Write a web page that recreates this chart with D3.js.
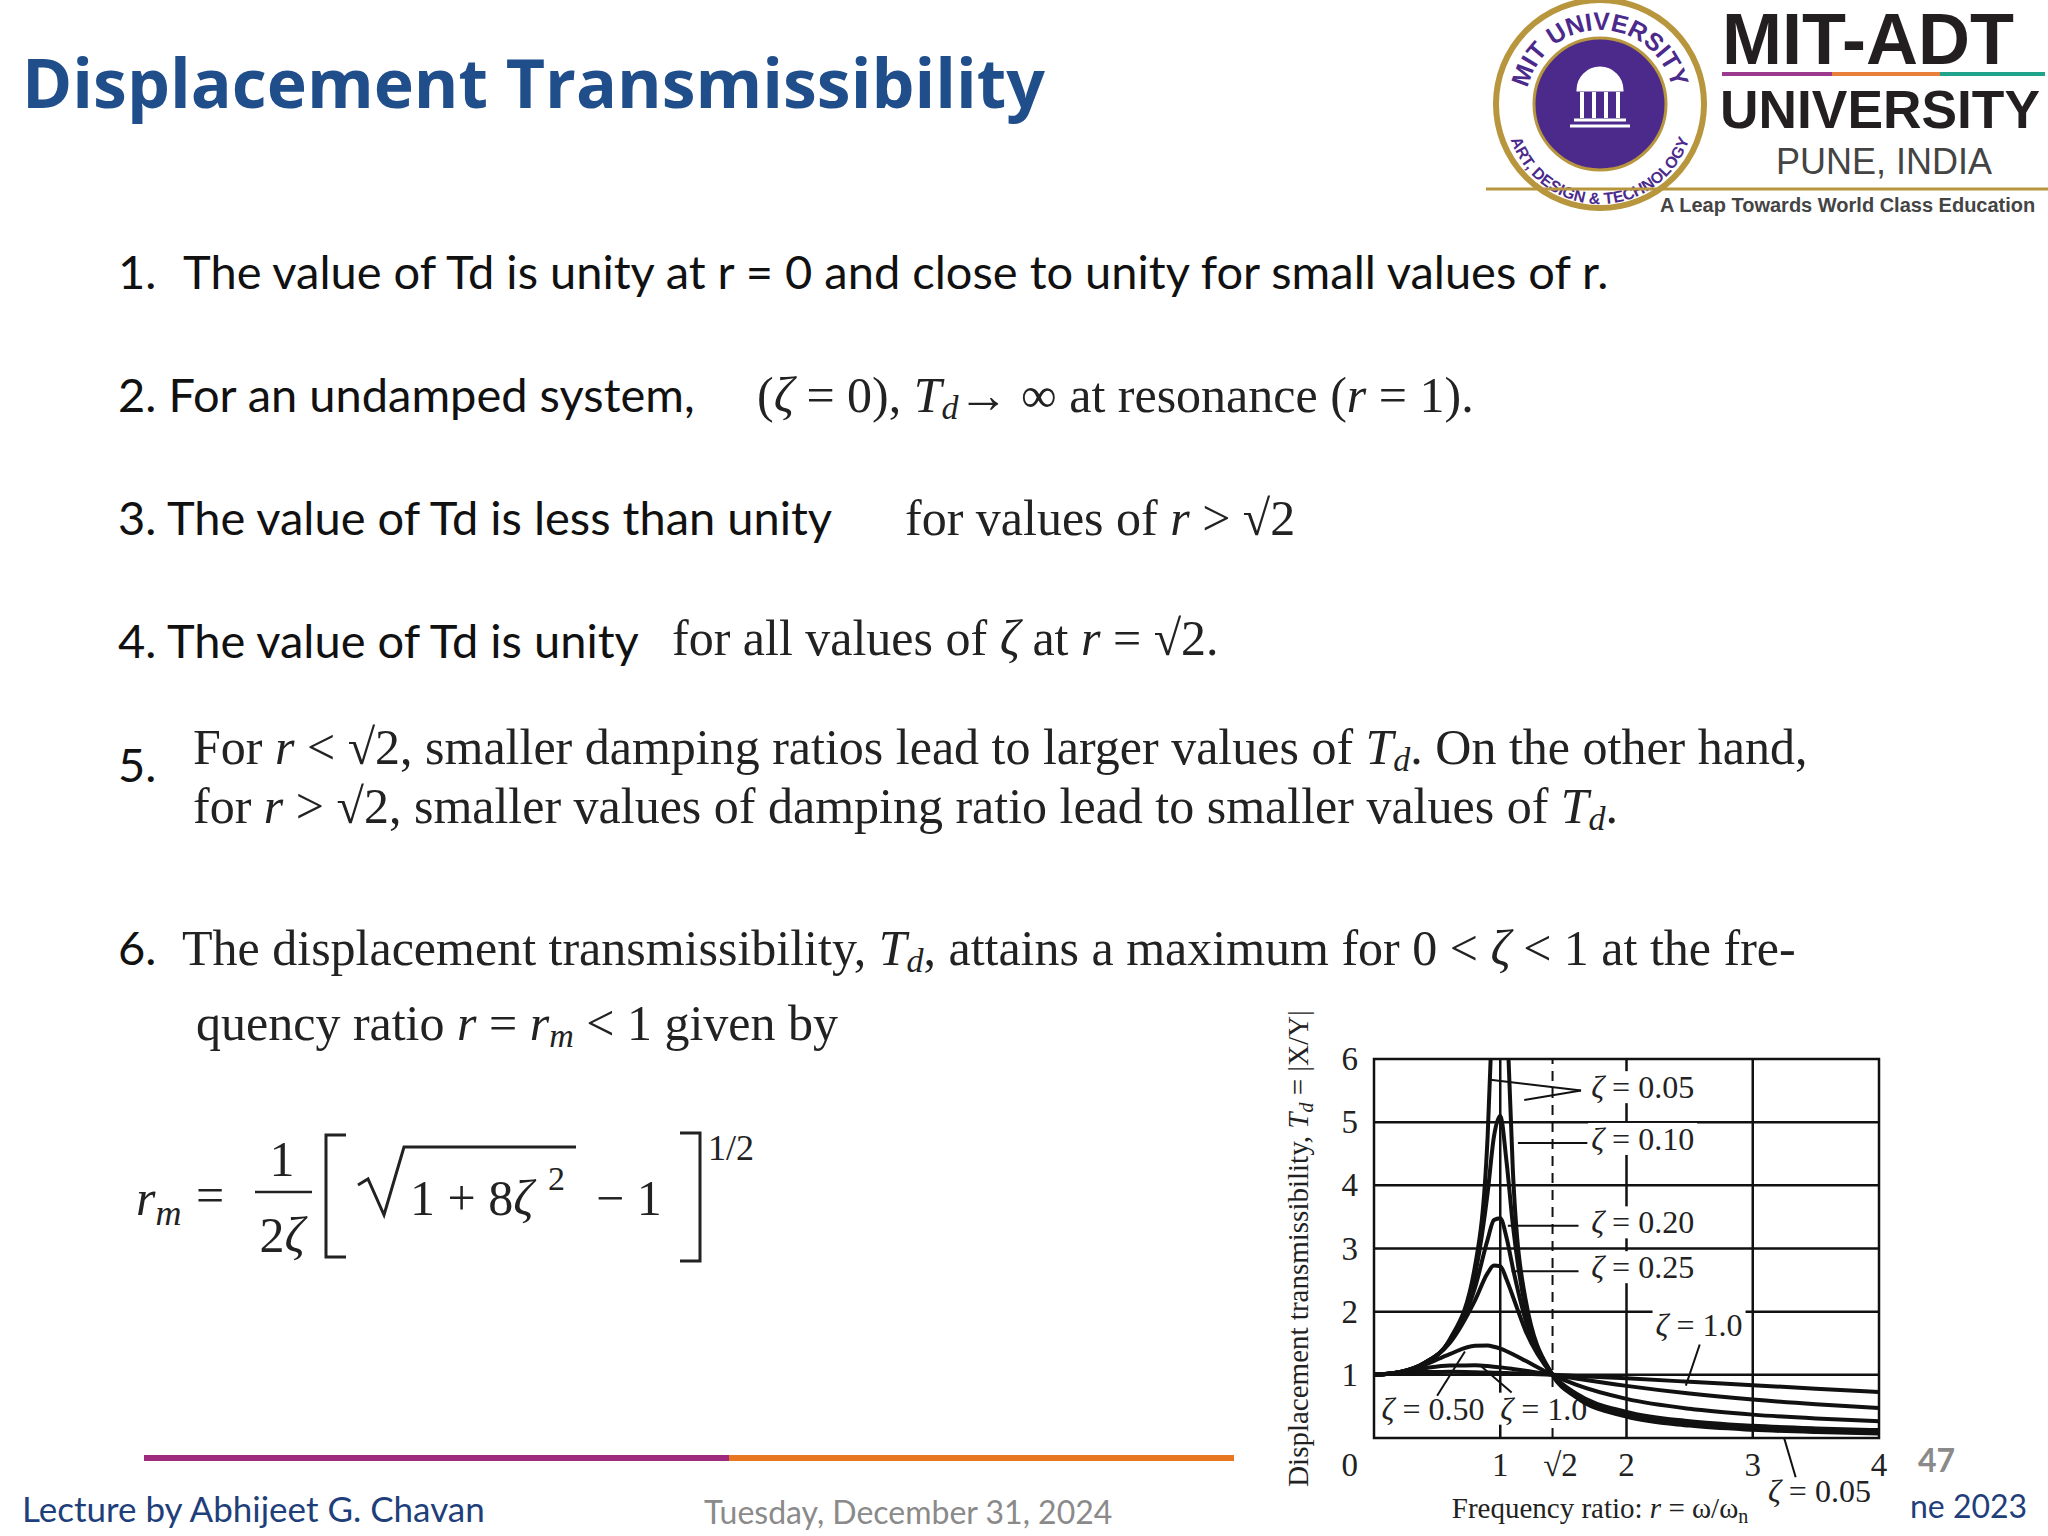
<!DOCTYPE html>
<html><head><meta charset="utf-8">
<script src="https://cdn.jsdelivr.net/npm/d3@7"></script>
<style>body{margin:0;background:#fff}svg{display:block}</style>
</head><body>
<svg id="slide" width="2048" height="1536"></svg>
<script>
// Frequency ratio samples and Td values
const rVals = [0, 0.2, 0.4, 0.6, 0.8, 0.9, 0.95, 1.0, 1.05, 1.1, 1.2, 1.414, 1.6, 2, 2.5, 3, 3.5, 4];
const td005 = [1, 1.04, 1.19, 1.56, 2.72, 4.77, 7.4, 10, 6.8, 4.23, 2.2, 1, 0.646, 0.339, 0.196, 0.13, 0.094, 0.072];
const td010 = [1, 1.042, 1.189, 1.547, 2.57, 3.88, 4.77, 5.1, 4.37, 3.37, 2.05, 1, 0.659, 0.356, 0.212, 0.145, 0.108, 0.085];
const td020 = [1, 1.042, 1.187, 1.528, 2.38, 3.14, 3.45, 3.48, 3.17, 2.69, 1.87, 1, 0.68, 0.381, 0.236, 0.167, 0.128, 0.104];
const td025 = [1, 1.041, 1.184, 1.505, 2.18, 2.61, 2.73, 2.72, 2.51, 2.24, 1.7, 1, 0.704, 0.412, 0.265, 0.193, 0.152, 0.125];
const td050 = [1, 1.04, 1.158, 1.329, 1.46, 1.463, 1.444, 1.414, 1.374, 1.327, 1.222, 1, 0.845, 0.62, 0.463, 0.37, 0.309, 0.266];
const td100 = [1, 1.036, 1.104, 1.148, 1.15, 1.138, 1.128, 1.118, 1.106, 1.093, 1.066, 1, 0.942, 0.825, 0.703, 0.608, 0.534, 0.474];
const td200 = [1, 1.025, 1.044, 1.047, 1.041, 1.036, 1.034, 1.031, 1.028, 1.024, 1.017, 1, 0.983, 0.944, 0.89, 0.835, 0.781, 0.73];
const seriesList = [td005, td010, td020, td025, td050, td100, td200];
const xTicks = [0, 1, 2, 3, 4];
const yTicks = [0, 1, 2, 3, 4, 5, 6];
// curve labels: [text x (r), baseline (Td), label, leader lines [r1, td1, r2, td2]]
const curveLabels = [
    [1.72, 5.38, "0.05", [[1.64, 5.5, 0.92, 5.67], [1.64, 5.5, 1.19, 5.35]]],
    [1.72, 4.56, "0.10", [[1.69, 4.67, 1.14, 4.67]]],
    [1.72, 3.24, "0.20", [[1.62, 3.36, 1.06, 3.36]]],
    [1.72, 2.53, "0.25", [[1.62, 2.64, 1.09, 2.64]]],
    [2.23, 1.61, "1.0", [[2.58, 1.48, 2.47, 0.83]]],
    [0.06, 0.29, "0.50", [[0.5, 0.67, 0.72, 1.37]]],
    [1.0, 0.29, "1.0", [[1.09, 0.72, 0.84, 1.15]]],
    [3.12, -1.02, "0.05", [[3.34, -0.62, 3.25, -0.01]]]
];

const svg = d3.select("#slide");
const serif = "'Liberation Serif', 'DejaVu Serif', serif";
const sans = "Lato, 'Open Sans', sans-serif";
const arial = "'Liberation Sans', sans-serif";

// Title
svg.append("text").attr("x", 22).attr("y", 108)
    .style("font-family", "'Open Sans', sans-serif").style("font-weight", "700")
    .style("font-size", "68px").attr("fill", "#1f4e8a").text("Displacement Transmissibility");

// Logo
const logo = svg.append("g");
logo.append("circle").attr("cx", 1600).attr("cy", 104).attr("r", 104).attr("fill", "#fff").attr("stroke", "#b8963e").attr("stroke-width", 6);
logo.append("circle").attr("cx", 1600).attr("cy", 104).attr("r", 66).attr("fill", "#4b2a8c").attr("stroke", "#b8963e").attr("stroke-width", 3);
logo.append("path").attr("d", "M1574,120 h52 M1570,126 h60 M1578,90 a22,22 0 0 1 44,0 z").attr("stroke", "#fff").attr("stroke-width", 3).attr("fill", "#fff");
[1582, 1594, 1606, 1618].forEach(x => logo.append("rect").attr("x", x - 2).attr("y", 92).attr("width", 4).attr("height", 26).attr("fill", "#fff"));
logo.append("path").attr("id", "ringTop").attr("d", "M1526,104 A74,74 0 0 1 1674,104").attr("fill", "none");
logo.append("text").style("font-family", arial).style("font-weight", "700").style("font-size", "25px").attr("fill", "#4b2a8c")
    .append("textPath").attr("href", "#ringTop").attr("startOffset", "50%").attr("text-anchor", "middle").text("MIT UNIVERSITY");
logo.append("path").attr("id", "ringBot").attr("d", "M1506,110 A94,94 0 0 0 1694,110").attr("fill", "none");
logo.append("text").style("font-family", arial).style("font-weight", "700").style("font-size", "16px").attr("fill", "#4b2a8c")
    .append("textPath").attr("href", "#ringBot").attr("startOffset", "50%").attr("text-anchor", "middle").text("ART, DESIGN & TECHNOLOGY");
logo.append("line").attr("x1", 1486).attr("x2", 2048).attr("y1", 189).attr("y2", 189).attr("stroke", "#b8963e").attr("stroke-width", 3);
logo.append("text").attr("x", 1722).attr("y", 64).style("font-family", arial).style("font-weight", "700").style("font-size", "72px").attr("fill", "#231f20").text("MIT-ADT");
[["#9b3a8f", 1722, 1832], ["#e8803a", 1832, 1940], ["#1fa38a", 1940, 2045]].forEach(d =>
    logo.append("line").attr("x1", d[1]).attr("x2", d[2]).attr("y1", 74).attr("y2", 74).attr("stroke", d[0]).attr("stroke-width", 4));
logo.append("text").attr("x", 1720).attr("y", 128).style("font-family", arial).style("font-weight", "700").style("font-size", "54px").attr("fill", "#231f20")
    .attr("textLength", 320).attr("lengthAdjust", "spacingAndGlyphs").text("UNIVERSITY");
logo.append("text").attr("x", 1776).attr("y", 174).style("font-family", arial).style("font-size", "36px").attr("fill", "#444").text("PUNE, INDIA");
logo.append("text").attr("x", 1660).attr("y", 212).style("font-family", arial).style("font-weight", "700").style("font-size", "20px").attr("fill", "#444").text("A Leap Towards World Class Education");

// Body text
function line(x, y, parts) {
    const t = svg.append("text").attr("x", x).attr("y", y).attr("fill", "#111");
    parts.forEach(p => {
        const s = t.append("tspan").text(p.t)
            .style("font-family", p.m ? serif : sans)
            .style("font-size", (p.sub ? 34 : (p.m ? 50 : 47)) + "px")
            .style("font-style", p.i ? "italic" : "normal");
        if (p.sub) s.attr("baseline-shift", "-22%");
        if (p.dx) s.attr("dx", p.dx);
    });
    if (parts.some(p => p.m)) t.attr("fill", "#222");
    return t;
}
line(118, 289, [{t: "1."}, {t: "The value of Td is unity at r = 0 and close to unity for small values of r.", dx: 30}]);
line(118, 412, [{t: "2. For an undamped system,"}]);
line(757, 412, [{t: "(", m: 1}, {t: "ζ", m: 1, i: 1}, {t: "  =  0), ", m: 1}, {t: "T", m: 1, i: 1}, {t: "d", m: 1, i: 1, sub: 1}, {t: "→  ∞  at resonance (", m: 1}, {t: "r", m: 1, i: 1}, {t: "  =  1).", m: 1}]);
line(118, 535, [{t: "3. The value of Td is less than unity"}]);
line(905, 535, [{t: "for values of ", m: 1}, {t: "r", m: 1, i: 1}, {t: "  >  √2", m: 1}]);
line(118, 658, [{t: "4. The value of Td is unity"}]);
line(672, 655, [{t: "for all values of ", m: 1}, {t: "ζ", m: 1, i: 1}, {t: " at ", m: 1}, {t: "r", m: 1, i: 1}, {t: "  =  √2.", m: 1}]);
line(118, 782, [{t: "5."}]);
line(193, 764, [{t: "For ", m: 1}, {t: "r", m: 1, i: 1}, {t: "  <  √2, smaller damping ratios lead to larger values of ", m: 1}, {t: "T", m: 1, i: 1}, {t: "d", m: 1, i: 1, sub: 1}, {t: ". On the other hand,", m: 1}]);
line(193, 823, [{t: "for ", m: 1}, {t: "r", m: 1, i: 1}, {t: "  >  √2, smaller values of damping ratio lead to smaller values of ", m: 1}, {t: "T", m: 1, i: 1}, {t: "d", m: 1, i: 1, sub: 1}, {t: ".", m: 1}]);
line(118, 965, [{t: "6."}]);
line(182, 965, [{t: "The displacement transmissibility, ", m: 1}, {t: "T", m: 1, i: 1}, {t: "d", m: 1, i: 1, sub: 1}, {t: ", attains a maximum for 0  <  ", m: 1}, {t: "ζ", m: 1, i: 1}, {t: "  <  1 at the fre-", m: 1}]);
line(196, 1040, [{t: "quency ratio ", m: 1}, {t: "r", m: 1, i: 1}, {t: "  =  ", m: 1}, {t: "r", m: 1, i: 1}, {t: "m", m: 1, i: 1, sub: 1}, {t: "  <  1 given by", m: 1}]);

// Formula
const f = svg.append("g").style("font-family", serif).style("font-size", "50px").attr("fill", "#222");
f.append("text").attr("x", 136).attr("y", 1215).style("font-style", "italic").text("r").append("tspan").attr("baseline-shift", "-28%").style("font-size", "36px").text("m");
f.append("text").attr("x", 196).attr("y", 1212).text("=");
f.append("text").attr("x", 282).attr("y", 1176).attr("text-anchor", "middle").text("1");
f.append("line").attr("x1", 255).attr("x2", 312).attr("y1", 1192).attr("y2", 1192).attr("stroke", "#222").attr("stroke-width", 2.5);
f.append("text").attr("x", 282).attr("y", 1252).attr("text-anchor", "middle").text("2").append("tspan").style("font-style", "italic").text("ζ");
f.append("path").attr("d", "M346,1135 h-20 v122 h20 M680,1133 h20 v128 h-20").attr("fill", "none").attr("stroke", "#222").attr("stroke-width", 3);
f.append("path").attr("d", "M358,1185 l10,-6 l16,36 l20,-68 h172").attr("fill", "none").attr("stroke", "#222").attr("stroke-width", 3);
f.append("text").attr("x", 410).attr("y", 1215).text("1  +  8").append("tspan").style("font-style", "italic").text("ζ");
f.append("text").attr("x", 548).attr("y", 1190).style("font-size", "34px").text("2");
f.append("text").attr("x", 596).attr("y", 1215).text("−  1");
f.append("text").attr("x", 708).attr("y", 1160).style("font-size", "36px").text("1/2");

// Footer
svg.append("line").attr("x1", 144).attr("x2", 729).attr("y1", 1458).attr("y2", 1458).attr("stroke", "#9e2a7e").attr("stroke-width", 6);
svg.append("line").attr("x1", 729).attr("x2", 1234).attr("y1", 1458).attr("y2", 1458).attr("stroke", "#e87722").attr("stroke-width", 6);
svg.append("text").attr("x", 22).attr("y", 1522).style("font-family", sans).style("font-size", "35px").attr("fill", "#1f3f7a").text("Lecture by Abhijeet G. Chavan");
svg.append("text").attr("x", 704).attr("y", 1524).style("font-family", sans).style("font-size", "32px").attr("fill", "#8a8a8a").text("Tuesday, December 31, 2024");
svg.append("text").attr("x", 1918).attr("y", 1472).style("font-family", sans).style("font-weight", "700").style("font-size", "32px").attr("fill", "#8a8a8a").text("47");
svg.append("text").attr("x", 1910).attr("y", 1518).style("font-family", sans).style("font-size", "32px").attr("fill", "#1f3f7a").text("ne 2023");

// Chart
const x = d3.scaleLinear().domain([0, 4]).range([1374, 1879]);
const y = d3.scaleLinear().domain([0, 6]).range([1438, 1059]);
const chart = svg.append("g");
chart.append("defs").append("clipPath").attr("id", "plotClip").append("rect")
    .attr("x", x(0)).attr("y", y(6)).attr("width", x(4) - x(0)).attr("height", y(0) - y(6));
chart.selectAll(".hgrid").data(yTicks.slice(1, 6)).enter().append("line")
    .attr("x1", x(0)).attr("x2", x(4)).attr("y1", d => y(d)).attr("y2", d => y(d)).attr("stroke", "#111").attr("stroke-width", 2.5);
chart.selectAll(".vgrid").data([1, 2, 3]).enter().append("line")
    .attr("y1", y(0)).attr("y2", y(6)).attr("x1", d => x(d)).attr("x2", d => x(d)).attr("stroke", "#111").attr("stroke-width", 2.5);
chart.append("line").attr("x1", x(Math.SQRT2)).attr("x2", x(Math.SQRT2)).attr("y1", y(0)).attr("y2", y(6))
    .attr("stroke", "#111").attr("stroke-width", 2).attr("stroke-dasharray", "10,7");

// labels with white boxes (break the grid like the original)
const ann = chart.append("g").style("font-family", serif).style("font-size", "32px").attr("fill", "#222");
curveLabels.forEach(([tr, tt, txt]) => {
    const t = ann.append("text").attr("x", x(tr)).attr("y", y(tt));
    t.append("tspan").style("font-style", "italic").text("ζ");
    t.append("tspan").text(" = " + txt);
    const b = t.node().getBBox();
    ann.insert("rect", "text").attr("x", b.x - 3).attr("y", b.y + 2).attr("width", b.width + 6).attr("height", b.height - 4).attr("fill", "#fff");
});

chart.append("rect").attr("x", x(0)).attr("y", y(6)).attr("width", x(4) - x(0)).attr("height", y(0) - y(6))
    .attr("fill", "none").attr("stroke", "#111").attr("stroke-width", 2.5);

const curve = d3.line().x((d, i) => x(rVals[i])).y(d => y(d)).curve(d3.curveMonotoneX);
chart.append("g").attr("clip-path", "url(#plotClip)").selectAll("path").data(seriesList).enter().append("path")
    .attr("d", d => curve(d)).attr("fill", "none").attr("stroke", "#111").attr("stroke-width", 4);

curveLabels.forEach(([, , , lines]) => lines.forEach(l =>
    chart.append("line").attr("x1", x(l[0])).attr("y1", y(l[1])).attr("x2", x(l[2])).attr("y2", y(l[3])).attr("stroke", "#111").attr("stroke-width", 2)));

// tick labels
const tk = chart.append("g").style("font-family", serif).style("font-size", "33px").attr("fill", "#222");
yTicks.slice(1).forEach(v => tk.append("text").attr("x", x(0) - 16).attr("y", y(v) + 11).attr("text-anchor", "end").text(v));
tk.append("text").attr("x", x(0) - 16).attr("y", y(0) + 38).attr("text-anchor", "end").text("0");
xTicks.slice(1).forEach(v => tk.append("text").attr("x", x(v)).attr("y", y(0) + 38).attr("text-anchor", "middle").text(v));
tk.append("text").attr("x", x(Math.SQRT2) + 8).attr("y", y(0) + 38).attr("text-anchor", "middle").text("√2");

// axis titles
const ay = chart.append("text").attr("transform", `translate(${x(0) - 66},${y(3)}) rotate(-90)`)
    .attr("text-anchor", "middle").style("font-family", serif).style("font-size", "29px").attr("fill", "#222");
ay.append("tspan").text("Displacement transmissibility, ");
ay.append("tspan").style("font-style", "italic").text("T");
ay.append("tspan").style("font-style", "italic").style("font-size", "20px").attr("baseline-shift", "-25%").text("d");
ay.append("tspan").text(" = |X/Y|");
const ax = chart.append("text").attr("x", 1600).attr("y", y(0) + 80).attr("text-anchor", "middle")
    .style("font-family", serif).style("font-size", "29px").attr("fill", "#222");
ax.append("tspan").text("Frequency ratio: ");
ax.append("tspan").style("font-style", "italic").text("r");
ax.append("tspan").text(" = ω/ω");
ax.append("tspan").style("font-size", "20px").attr("baseline-shift", "-25%").text("n");
</script>
</body></html>
